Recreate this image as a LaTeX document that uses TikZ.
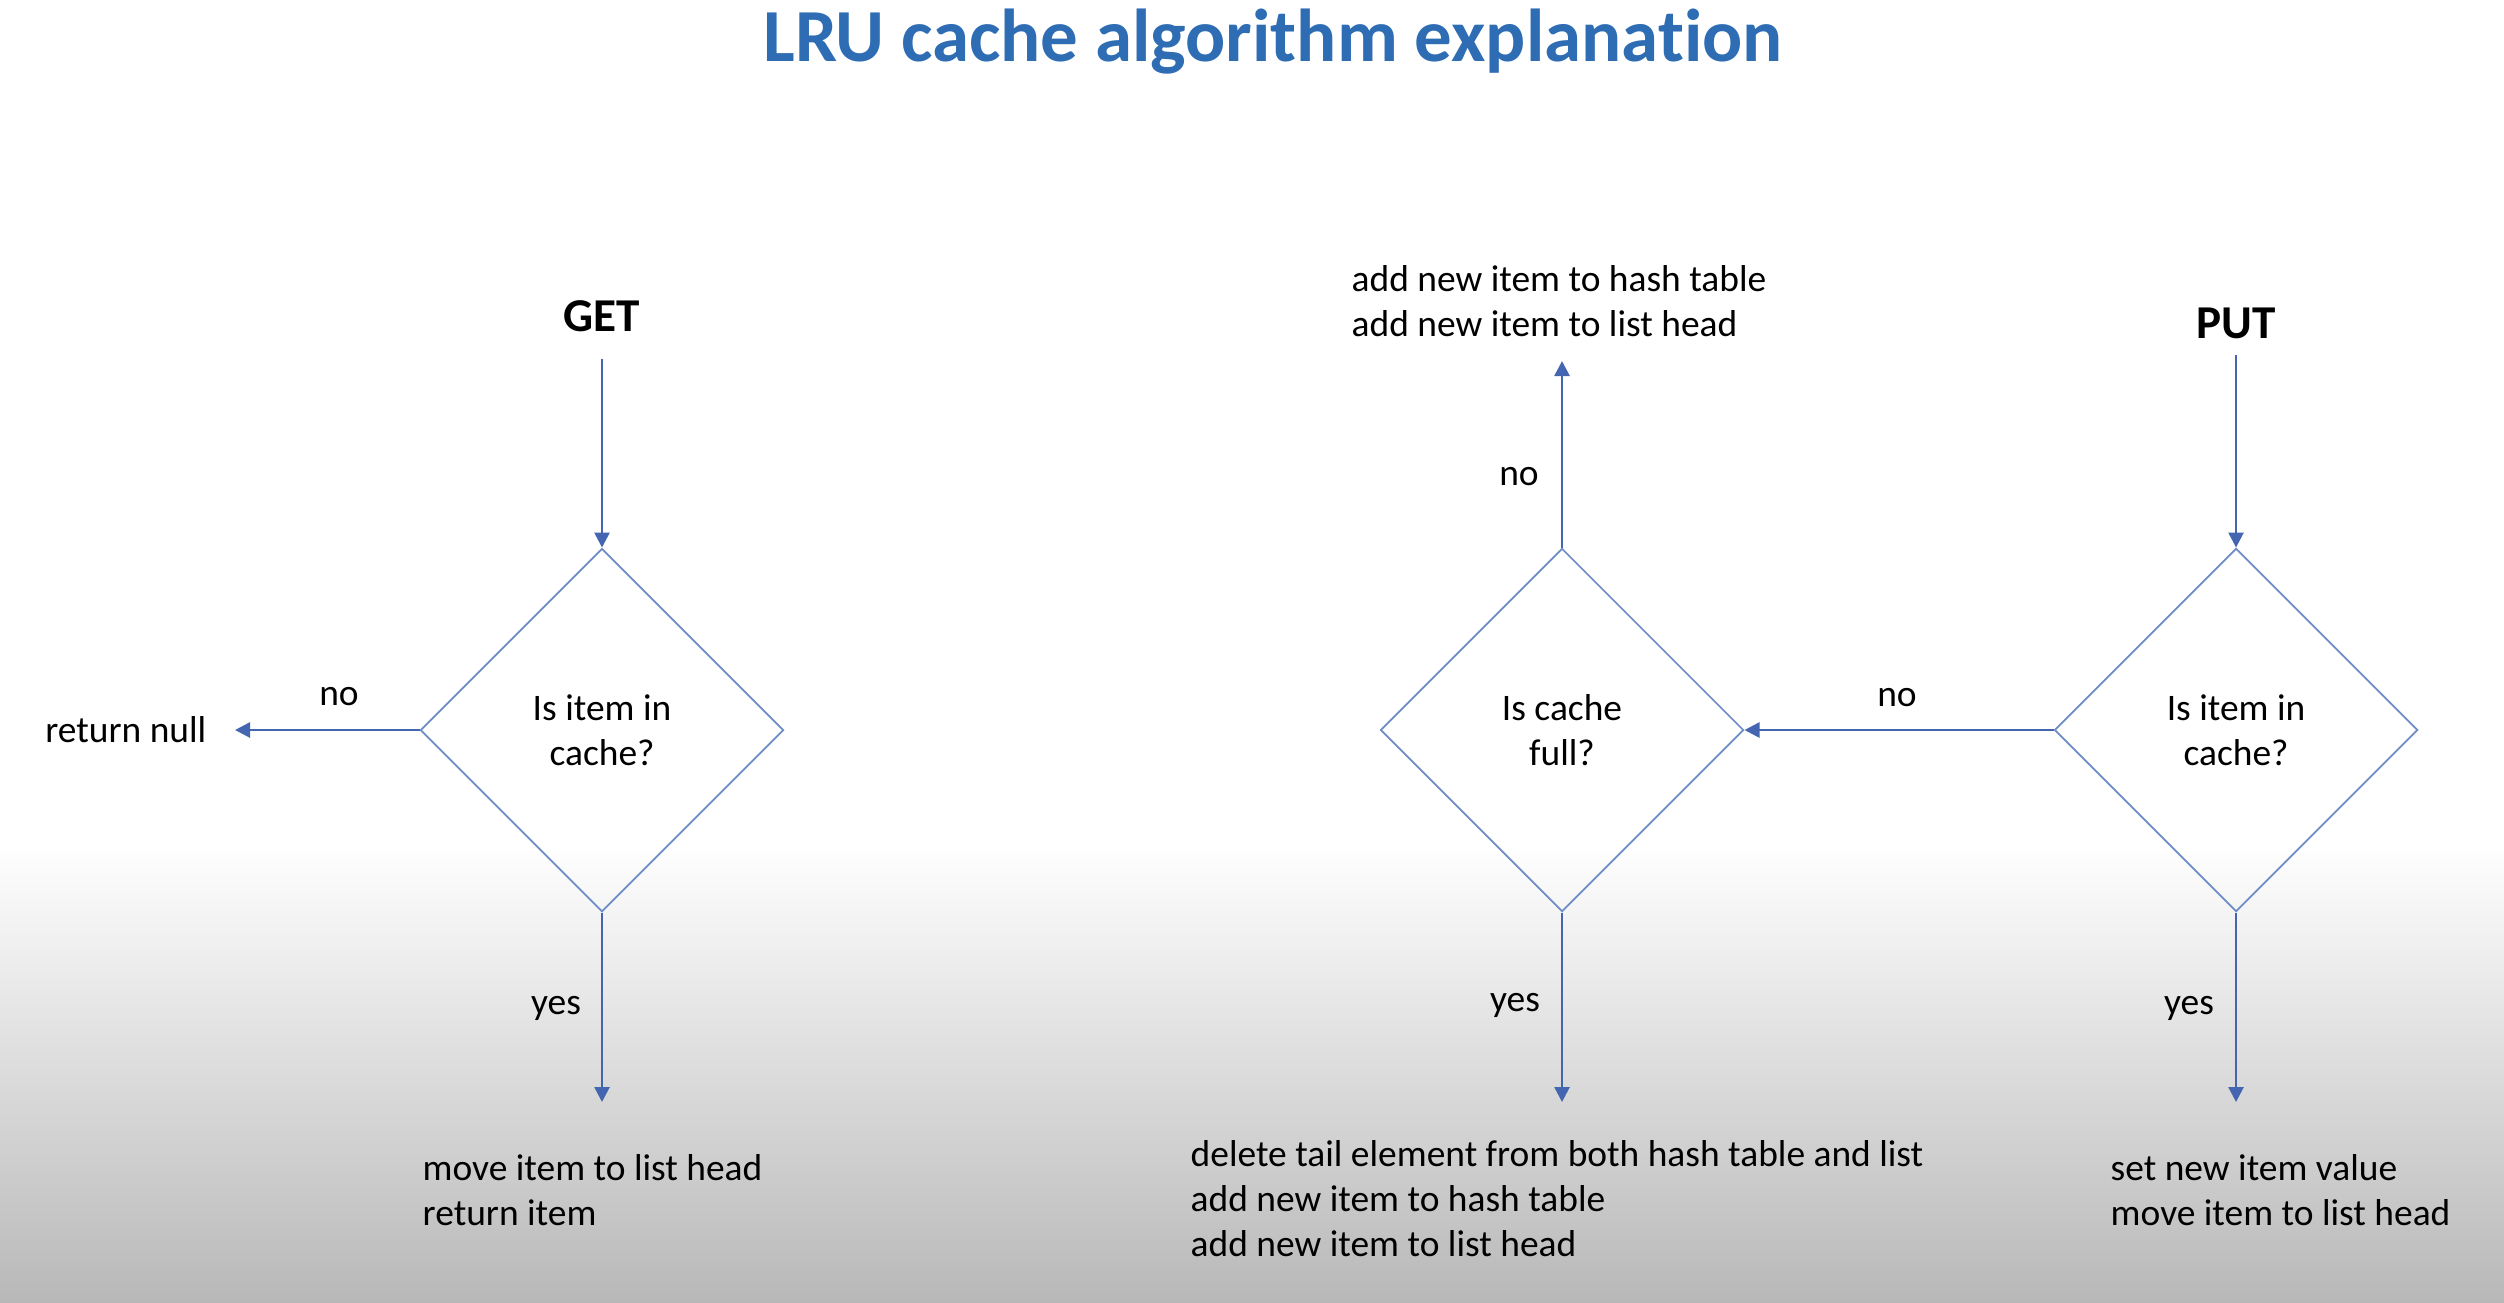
\documentclass[tikz,border=0pt]{standalone}
\usepackage{fontspec}
\setmainfont{Carlito}[Ligatures=NoCommon]
\usetikzlibrary{shapes.geometric,arrows.meta}
\definecolor{titleblue}{RGB}{46,109,180}
\definecolor{arrowblue}{RGB}{68,102,176}
\definecolor{diamblue}{RGB}{110,140,198}
\definecolor{bgbot}{RGB}{184,184,184}
\tikzset{
  body/.style={font=\fontsize{10.65}{12.8}\selectfont, text=black, inner sep=0pt},
  block/.style={body, align=left, anchor=west},
  decision/.style={diamond, draw=diamblue, line width=0.5pt, aspect=1, minimum width=3.63cm, minimum height=3.63cm, inner sep=0pt, align=center, body},
  arr/.style={draw=arrowblue, line width=0.75pt, -{Triangle[length=0.15cm,width=0.15cm]}},
  heading/.style={font=\fontsize{13.4}{16}\selectfont\bfseries, inner sep=0pt},
}
\begin{document}
\begin{tikzpicture}[x=0.01cm,y=-0.01cm]
% background
\fill[white] (0,0) rectangle (2504,843);
\shade[top color=white, bottom color=bgbot] (0,843) rectangle (2504,1302);
\useasboundingbox (0,0) rectangle (2504,1302);
% title
\node[font=\fontsize{21.3}{25}\selectfont\bfseries, text=titleblue, inner sep=0pt, anchor=base] (title) at (1273,61) {LRU cache algorithm explanation};
% GET side
\node[heading] (get) at (602,316) {GET};
\coordinate (getA) at (602,359);
\node[decision] (d1) at (602,730) {Is item in\\cache?};
\node[body, anchor=east] (rnull) at (207,730) {return null};
\coordinate (rnA) at (235,730);
\node[body] (no1) at (339,697) {no};
\coordinate (mvA) at (602,1102);
\node[body] (yes1) at (556,1008) {yes};
\node[block] (mv) at (422,1190) {move item to list head\\return item};
\draw[arr] (getA) -- (d1.north);
\draw[arr] (d1.west) -- (rnA);
\draw[arr] (d1.south) -- (mvA);
% PUT side
\node[heading] (put) at (2236,323) {PUT};
\coordinate (putA) at (2236,355);
\node[decision] (d3) at (2236,730) {Is item in\\cache?};
\node[decision] (d2) at (1562,730) {Is cache\\full?};
\node[body] (no2) at (1897,698) {no};
\node[body] (no3) at (1519,477) {no};
\coordinate (addA) at (1562,361);
\node[block] (add) at (1351,301) {add new item to hash table\\add new item to list head};
\node[body] (yes2) at (1515,1005) {yes};
\coordinate (delA) at (1562,1102);
\node[block] (del) at (1190,1199) {delete tail element from both hash table and list\\add new item to hash table\\add new item to list head};
\node[body] (yes3) at (2189,1008) {yes};
\coordinate (setA) at (2236,1102);
\node[block] (set) at (2110,1190) {set new item value\\move item to list head};
\draw[arr] (putA) -- (d3.north);
\draw[arr] (d3.west) -- (d2.east);
\draw[arr] (d2.north) -- (addA);
\draw[arr] (d2.south) -- (delA);
\draw[arr] (d3.south) -- (setA);
\end{tikzpicture}
\end{document}
